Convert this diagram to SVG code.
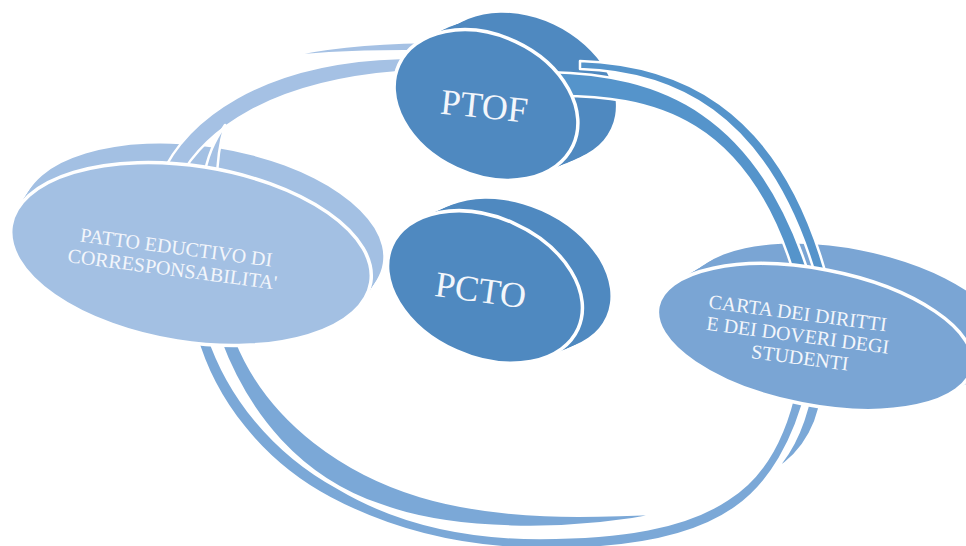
<svg xmlns="http://www.w3.org/2000/svg" xmlns:xlink="http://www.w3.org/1999/xlink" width="966" height="546" viewBox="0 0 966 546">
<style>
.lbl{font-family:"Liberation Serif","Times New Roman",serif;fill:#f3f6fb;text-anchor:middle}
.band{stroke:#ffffff;stroke-width:2.5;stroke-linejoin:round}
.front{stroke:#ffffff;stroke-width:3.5}
.dark{fill:#4f89c0}
.light{fill:#a3c0e3}
.mid{fill:#7aa5d4}
</style>
<defs>
<ellipse id="e-patto" cx="191" cy="254" rx="182" ry="88" transform="rotate(9 191 254)"/>
<ellipse id="e-ptof" cx="486" cy="105" rx="96" ry="70" transform="rotate(25 486 105)"/>
<ellipse id="e-pcto" cx="485" cy="287" rx="102" ry="70" transform="rotate(24 485 287)"/>
<ellipse id="e-carta" cx="815" cy="337" rx="160" ry="68" transform="rotate(11 815 337)"/>
</defs>
<rect width="966" height="546" fill="#ffffff"/>

<g id="extrusions">
<g id="patto-back" class="light">
<use xlink:href="#e-patto" transform="translate(2,-3)"/>
<use xlink:href="#e-patto" transform="translate(4,-6)"/>
<use xlink:href="#e-patto" transform="translate(6,-10)"/>
<use xlink:href="#e-patto" transform="translate(8,-13)"/>
<use xlink:href="#e-patto" transform="translate(10,-16)"/>
<use xlink:href="#e-patto" transform="translate(12,-19)"/>
</g>
<g id="ptof-back" class="dark">
<use xlink:href="#e-ptof" transform="translate(6,-3)"/>
<use xlink:href="#e-ptof" transform="translate(13,-6)"/>
<use xlink:href="#e-ptof" transform="translate(19,-9)"/>
<use xlink:href="#e-ptof" transform="translate(25,-11)"/>
<use xlink:href="#e-ptof" transform="translate(32,-14)"/>
<use xlink:href="#e-ptof" transform="translate(38,-17)"/>
</g>
<g id="pcto-back" class="dark">
<use xlink:href="#e-pcto" transform="translate(5,-2)"/>
<use xlink:href="#e-pcto" transform="translate(9,-4)"/>
<use xlink:href="#e-pcto" transform="translate(14,-6)"/>
<use xlink:href="#e-pcto" transform="translate(19,-8)"/>
<use xlink:href="#e-pcto" transform="translate(23,-10)"/>
<use xlink:href="#e-pcto" transform="translate(28,-12)"/>
</g>
<g id="carta-back" class="mid">
<use xlink:href="#e-carta" transform="translate(5,-3)"/>
<use xlink:href="#e-carta" transform="translate(11,-7)"/>
<use xlink:href="#e-carta" transform="translate(16,-10)"/>
<use xlink:href="#e-carta" transform="translate(21,-13)"/>
<use xlink:href="#e-carta" transform="translate(27,-17)"/>
<use xlink:href="#e-carta" transform="translate(32,-20)"/>
</g>
</g>

<g id="connectors">
<g id="arc-patto-ptof" fill="#a5c1e4">
<path class="band" d="M160,178 C185,120 260,62 400,58 L422,58 L422,72 L400,72 C270,82 205,130 178,180 Z"/>
<path class="band" d="M283,57 C320,48 370,43 425,42 L425,51 C370,51 320,53 283,57 Z"/>
<path class="band" d="M225,125 C215,140 207,155 203,182 L217,182 C217,160 220,142 225,125 Z"/>
</g>
<g id="arc-ptof-carta" fill="#5594cb">
<path class="band" d="M580,61 C670,64 780,98 828,282 L818,284 C768,105 666,72 580,69 Z"/>
<path class="band" d="M548,72 C660,74 760,111 812,284 L797,284 C750,118 655,94 548,96 Z"/>
</g>
<g id="arc-carta-patto" fill="#7ba8d7">
<path class="band" d="M196,335 C214,400 262,462 330,498 C390,530 460,548 540,549 C620,550 690,540 735,508 C770,484 795,440 808,385 L796,385 C785,438 762,478 728,499 C685,528 620,538 540,538 C462,538 395,522 338,488 C272,452 228,395 208,335 Z"/>
<path class="band" d="M220,340 C248,415 300,478 380,505 C450,531 565,534 667,513 C590,517 500,520 420,496 C350,475 270,425 236,340 Z"/>
<path class="band" d="M813,380 L823,380 C822,420 805,452 774,471 C792,452 806,425 813,380 Z"/>
</g>
</g>

<g id="node-patto">
<use xlink:href="#e-patto" class="front light"/>
<g transform="rotate(7.5 174 265)">
<text class="lbl" x="174" y="254" font-size="20">PATTO EDUCTIVO DI</text>
<text class="lbl" x="173" y="276" font-size="20">CORRESPONSABILITA'</text>
</g>
</g>
<g id="node-ptof">
<use xlink:href="#e-ptof" class="front dark"/>
<text class="lbl" x="483" y="118" font-size="36" transform="rotate(6 483 118)">PTOF</text>
</g>
<g id="node-pcto">
<use xlink:href="#e-pcto" class="front dark"/>
<text class="lbl" x="479" y="302" font-size="36" transform="rotate(8 479 302)">PCTO</text>
</g>
<g id="node-carta">
<use xlink:href="#e-carta" class="front mid"/>
<g transform="rotate(7.5 798 342)">
<text class="lbl" x="794" y="320" font-size="20">CARTA DEI DIRITTI</text>
<text class="lbl" x="797" y="342" font-size="20">E DEI DOVERI DEGI</text>
<text class="lbl" x="802" y="364" font-size="20">STUDENTI</text>
</g>
</g>
</svg>
